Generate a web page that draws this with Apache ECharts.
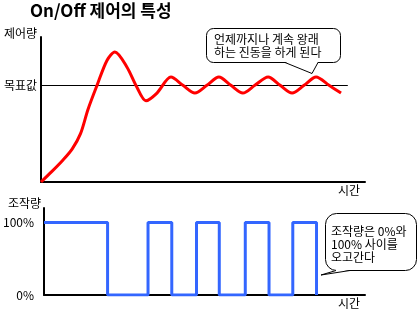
<!DOCTYPE html>
<html>
<head>
<meta charset="utf-8">
<script src="https://cdn.jsdelivr.net/npm/echarts@6/dist/echarts.min.js"></script>
<style>html,body{margin:0;padding:0;background:#fff;}#c{width:420px;height:309px;}</style>
</head>
<body>
<div id="c"></div>
<script>
// ---- data ----
const titleText = 'On/Off 제어의 특성';
const timeLabel = '시간';
const pvLabel = '제어량';
const mvLabel = '조작량';
const targetLabel = '목표값';
const targetValue = 100;
const targetLineEnd = 94.7;
// process value (time, value)
const pvTime  = [0, 3.3, 6.8, 9.6, 12.2, 14.5, 17.3, 20.4, 22.8, 26.5, 29.6, 32.4, 35.8, 40.1, 43.8, 47.5, 51.2, 54.9, 58.6, 62.3, 66.0, 70.1, 73.8, 77.5, 81.2, 84.9, 88.9, 92.6];
const pvValue = [0, 10.7, 22.8, 34, 50, 75, 100, 126, 134.5, 119, 98, 84, 92, 108.6, 100, 92, 100, 108.6, 100, 92, 100, 108.6, 100, 92, 100, 108.6, 100, 92];
// manipulated value switching (time, percent)
const mvTime  = [0, 19.8, 32.4, 39.8, 47.5, 54.6, 62.7, 70.1, 77.5, 84.9];
const mvValue = [100, 0, 100, 0, 100, 0, 100, 0, 100, 0];
const mvTicks = {0: '0%', 100: '100%'};
const note1 = '언제까지나 계속 왕래\n하는 진동을 하게 된다';
const note2 = '조작량은 0%와\n100% 사이를\n오고간다';

const FONT = '"Noto Sans CJK KR", "Noto Sans", sans-serif';
const chart = echarts.init(document.getElementById('c'));
const axisLine = {show: true, onZero: false, lineStyle: {color: '#000', width: 2}};

chart.setOption({
  animation: false,
  backgroundColor: '#fff',
  textStyle: {fontFamily: FONT, color: '#000'},
  title: {
    text: titleText, left: 30, top: 2, padding: 0,
    textStyle: {fontFamily: FONT, fontSize: 17, fontWeight: 'bold', color: '#000'}
  },
  grid: [
    {left: 41, top: 37, right: 55, bottom: 127},
    {left: 41, top: 208, right: 55, bottom: 14}
  ],
  xAxis: [
    {gridIndex: 0, type: 'value', min: 0, max: 100, axisLine, axisTick: {show: false},
     axisLabel: {show: false}, splitLine: {show: false},
     name: timeLabel, nameLocation: 'end', nameGap: -5,
     nameTextStyle: {fontFamily: FONT, fontSize: 12, color: '#000', align: 'right', verticalAlign: 'top', padding: [2, 0, 0, 0]}},
    {gridIndex: 1, type: 'value', min: 0, max: 100, axisLine, axisTick: {show: false},
     axisLabel: {show: false}, splitLine: {show: false},
     name: timeLabel, nameLocation: 'end', nameGap: -5,
     nameTextStyle: {fontFamily: FONT, fontSize: 12, color: '#000', align: 'right', verticalAlign: 'top', padding: [2, 0, 0, 0]}}
  ],
  yAxis: [
    {gridIndex: 0, type: 'value', min: 0, max: 150, interval: 50, axisLine, axisTick: {show: false},
     splitLine: {show: false},
     axisLabel: {margin: 4, fontFamily: FONT, fontSize: 12, color: '#000',
       formatter: v => v === targetValue ? targetLabel : ''},
     name: pvLabel, nameLocation: 'end', nameGap: 4,
     nameTextStyle: {fontFamily: FONT, fontSize: 12, color: '#000', align: 'right', verticalAlign: 'middle', padding: [0, 4, 0, 0]}},
    {gridIndex: 1, type: 'value', min: 0, max: 120, interval: 100, axisLine, axisTick: {show: false},
     splitLine: {show: false},
     axisLabel: {margin: 10, fontFamily: FONT, fontSize: 12, color: '#000', showMaxLabel: false,
       formatter: v => mvTicks[v] || ''},
     name: mvLabel, nameLocation: 'end', nameGap: 5,
     nameTextStyle: {fontFamily: FONT, fontSize: 12, color: '#000', align: 'right', verticalAlign: 'middle', padding: [0, 3, 0, 0]}}
  ],
  series: [
    {type: 'line', xAxisIndex: 0, yAxisIndex: 0, smooth: 0.3, showSymbol: false,
     lineStyle: {color: '#ff0000', width: 3}, z: 3,
     data: pvTime.map((t, i) => [t, pvValue[i]]),
     markLine: {silent: true, symbol: 'none', label: {show: false},
       lineStyle: {color: '#000', width: 1, type: 'solid'}, z: 2,
       data: [[{coord: [0, targetValue]}, {coord: [targetLineEnd, targetValue]}]]}},
    {type: 'line', xAxisIndex: 1, yAxisIndex: 1, step: 'end', showSymbol: false,
     lineStyle: {color: '#3366ff', width: 3}, z: 3,
     data: mvTime.map((t, i) => [t, mvValue[i]])}
  ],
  graphic: [
    {type: 'rect', shape: {x: 206.5, y: 28.5, width: 134, height: 34, r: 7},
     style: {fill: '#fff', stroke: '#000', lineWidth: 1}, z: 10},
    {type: 'polygon', shape: {points: [[285, 62], [312, 74], [318, 62]]},
     style: {fill: '#fff', stroke: null}, z: 11},
    {type: 'polyline', shape: {points: [[285, 62.5], [312, 73.5], [318, 62.5]]},
     style: {fill: null, stroke: '#000', lineWidth: 1}, z: 12},
    {type: 'text', x: 214, y: 32.5, z: 13,
     style: {text: note1, font: '12px ' + FONT, fill: '#000', lineHeight: 13, textVerticalAlign: 'top'}},
    {type: 'rect', shape: {x: 325.5, y: 213.5, width: 91, height: 57, r: 11},
     style: {fill: '#fff', stroke: '#000', lineWidth: 1}, z: 10},
    {type: 'polygon', shape: {points: [[336, 270], [321, 275], [350, 270]]},
     style: {fill: '#fff', stroke: null}, z: 11},
    {type: 'polyline', shape: {points: [[336, 270.5], [321, 275], [350, 270.5]]},
     style: {fill: null, stroke: '#000', lineWidth: 1}, z: 12},
    {type: 'text', x: 331, y: 225.5, z: 13,
     style: {text: note2, font: '12px ' + FONT, fill: '#000', lineHeight: 12.7, textVerticalAlign: 'top'}}
  ]
});
</script>
</body>
</html>
